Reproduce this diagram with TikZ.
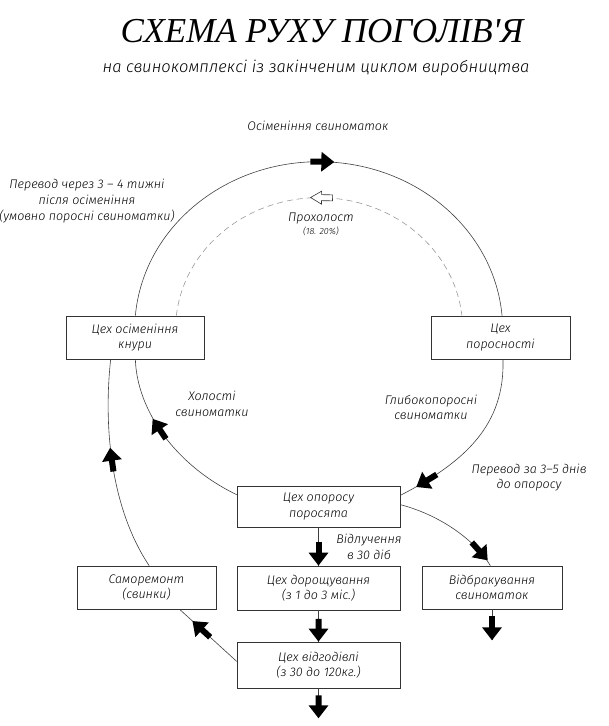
\documentclass[tikz,border=0pt]{standalone}
\usepackage{fontspec}
\setmainfont{Liberation Serif}
\IfFontExistsTF{Fira Sans Light Italic}
 {\newfontfamily\gostfam{Fira Sans Light Italic}}
 {\newfontfamily\gostfam{Carlito Italic}}
\usetikzlibrary{arrows.meta,decorations.markings,calc}
\begin{document}
\begin{tikzpicture}[x=1pt,y=-1pt,
  txt/.style={font=\gostfam\fontsize{12.5}{15.5}\selectfont, align=center, inner sep=0pt},
  smalltxt/.style={font=\gostfam\fontsize{9}{11}\selectfont, align=center, inner sep=0pt},
  box/.style={txt, draw=black!80, line width=0.7pt},
  conn/.style={draw=black!75, line width=0.6pt},
  dashline/.style={draw=black!40, line width=0.6pt, dash pattern=on 6pt off 4pt},
  fat/.style={draw=black, fill=black, line width=6pt, -{Triangle[length=13pt,width=19pt]}},
  fwdarr/.style={postaction={decorate}, decoration={markings, mark=at position #1 with {\draw[fat] (-12pt,0) -- (12pt,0);}}},
  backarr/.style={postaction={decorate}, decoration={markings, mark=at position #1 with {\draw[fat] (12pt,0) -- (-12pt,0);}}},
  hollowarr/.style={postaction={decorate}, decoration={markings, mark=at position #1 with {\draw[fill=white, line width=0.6pt, solid, draw=black!80] (-11pt,0) -- (0pt,6.5pt) -- (0pt,3pt) -- (11pt,3pt) -- (11pt,-3pt) -- (0pt,-3pt) -- (0pt,-6.5pt) -- cycle;}}}
]
\useasboundingbox (0,0) rectangle (609,726);

% titles
\node[font=\fontsize{35}{40}\selectfont\itshape, inner sep=0pt] (title) at (322,31) {СХЕМА РУХУ ПОГОЛІВ\textquotesingle Я};
\node[font=\gostfam\fontsize{16.5}{18}\selectfont, inner sep=0pt] (subtitle) at (316,68) {на свинокомплексі із закінченим циклом виробництва};

% boxes
\node[box, minimum width=138pt, minimum height=43pt] (kn)  at (135,337.5)   {Цех осіменіння\\кнури};
\node[box, minimum width=139pt, minimum height=43pt] (por) at (500.5,337.5) {Цех\\поросності};
\node[box, minimum width=163pt, minimum height=41pt] (opr) at (318.5,506.5) {Цех опоросу\\поросята};
\node[box, minimum width=163pt, minimum height=44pt] (dor) at (318.5,588)   {Цех дорощування\\(з 1 до 3 міс.)};
\node[box, minimum width=163pt, minimum height=46pt] (vid) at (318.5,665)   {Цех відгодівлі\\(з 30 до 120кг.)};
\node[box, minimum width=139pt, minimum height=43pt] (sam) at (146.5,587.5) {Саморемонт\\(свинки)};
\node[box, minimum width=140pt, minimum height=43pt] (vbr) at (492,587.5)   {Відбракування\\свиноматок};

% labels
\node[txt] (l1) at (318,126) {Осіменіння свиноматок};
\node[txt, font=\gostfam\fontsize{12.5}{16}\selectfont] (l2) at (87,201) {Перевод через 3 – 4 тижні\\після осіменіння\\(умовно поросні свиноматки)};
\node[txt] (l3) at (321,219) {Прохолост};
\node[smalltxt] (l4) at (321,231) {(18. 20\%)};
\node[txt] (l5) at (212,404) {Холості\\свиноматки};
\node[txt] (l6) at (431,407.5) {Глибокопоросні\\свиноматки};
\node[txt] (l7) at (529,477.5) {Перевод за 3–5 днів\\до опоросу};
\node[txt] (l8) at (369,547) {Відлучення\\в 30 діб};

% outer ring (upper part)
\draw[conn, fwdarr=0.507] ($(kn.north west)+(69.7,0)$) arc[start angle=184.8, end angle=355.2, x radius=184, y radius=168];
% inner dashed ring
\draw[dashline, hollowarr=0.506] ($(kn.north west)+(110.7,0)$) arc[start angle=186.09, end angle=353.91, x radius=143.6, y radius=132];

% lower arcs
\draw[conn, backarr=0.42] ($(kn.south west)+(69.7,0)$) .. controls (137,410) and (175,465) .. ($(opr.north west)+(0,9)$);
\draw[conn, fwdarr=0.835] ($(por.south west)+(72.3,0)$) .. controls (505,425) and (465,462) .. ($(opr.north east)+(0,9.7)$);
\draw[conn, fwdarr=0.84] ($(opr.north east)+(0,19)$) .. controls (440,515) and (475,540) .. ($(vbr.north west)+(68.7,0)$);

% replacement loop
\draw[conn, backarr=0.47] ($(kn.south west)+(45,0)$) .. controls (103,430) and (112,510) .. ($(sam.north west)+(72.5,0)$);
\draw[conn, fwdarr=0.62] ($(vid.north west)+(0,19.7)$) -- ($(sam.south west)+(103,0)$);

% vertical flow
\coordinate (vidout) at ($(vid.south)+(0,30)$);
\coordinate (vbrout) at ($(vbr.south)+(0,31)$);
\draw[conn] (opr.south) -- (dor.north);
\draw[fat] ($(opr.south)!0.37!(dor.north)$) -- (dor.north);
\draw[conn] (dor.south) -- (vid.north);
\draw[fat] ($(dor.south)!0.27!(vid.north)$) -- (vid.north);
\draw[conn] (vid.south) -- (vidout);
\draw[fat] ($(vid.south)!0.23!(vidout)$) -- (vidout);
\draw[conn] (vbr.south) -- (vbrout);
\draw[fat] ($(vbr.south)!0.23!(vbrout)$) -- (vbrout);
\end{tikzpicture}
\end{document}
